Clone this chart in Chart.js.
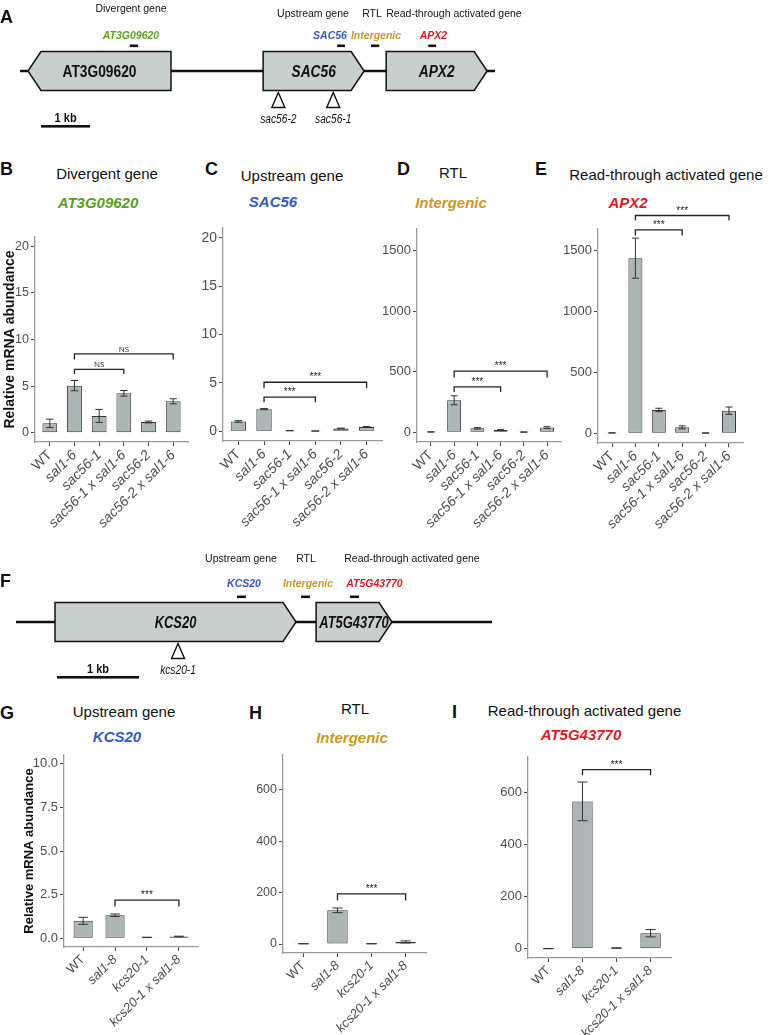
<!DOCTYPE html>
<html>
<head>
<meta charset="utf-8">
<script src="https://cdn.jsdelivr.net/npm/chart.js@4.4.1/dist/chart.umd.min.js"></script>
<style>
  body { margin: 0; background: #fff; }
  #fig { position: relative; width: 774px; height: 1035px; overflow: hidden; font-family: 'Liberation Sans', Arial, sans-serif; }
  #fig canvas { position: absolute; }
  .t { position: absolute; white-space: nowrap; line-height: 1; color: #111; }
</style>
</head>
<body>
<div id="fig"></div>
<script>
// genotypes
const labelsSac = ['WT', 'sal1-6', 'sac56-1', 'sac56-1 x sal1-6', 'sac56-2', 'sac56-2 x sal1-6'];
const labelsKcs = ['WT', 'sal1-8', 'kcs20-1', 'kcs20-1 x sal1-8'];

// relative mRNA abundance (mean, error)
const divergentMean = [1.0, 5.05, 1.8, 4.23, 1.15, 3.37];
const divergentErr  = [0.45, 0.55, 0.7, 0.3, 0.1, 0.27];
const sac56Mean = [1.02, 2.29, 0.07, 0.03, 0.3, 0.45];
const sac56Err  = [0.08, 0.06, 0.02, 0.01, 0.03, 0.04];
const rtlSacMean = [3, 265, 33, 19, 2, 39];
const rtlSacErr  = [1, 37, 6, 5, 1, 8];
const apx2Mean = [3, 1440, 192, 49, 2, 186];
const apx2Err  = [1, 165, 14, 12, 1, 30];
const kcs20Mean = [1.0, 1.32, 0.05, 0.1];
const kcs20Err  = [0.2, 0.07, 0.01, 0.02];
const rtlKcsMean = [1, 131, 1, 8];
const rtlKcsErr  = [0.3, 9, 0.3, 4];
const at5gMean = [1, 565, 3, 60];
const at5gErr  = [0.5, 74, 1, 14];

// significance brackets: [from, to, line value, tick end value, label]
const divergentSig = [[2, 4, 6.8, 6.3, 'NS'], [2, 6, 8.46, 7.85, 'NS']];
const sac56Sig = [[2, 4, 3.54, 2.99, '***'], [2, 6, 5.07, 4.44, '***']];
const rtlSacSig = [[2, 4, 375, 334, '***'], [2, 6, 505, 453, '***']];
const apx2Sig = [[2, 4, 1673, 1626, '***'], [2, 6, 1791, 1750, '***']];
const kcs20Sig = [[2, 4, 2.18, 1.82, '***']];
const rtlKcsSig = [[2, 4, 195, 169, '***']];
const at5gSig = [[2, 4, 687, 665, '***']];

// y tick values
const ticks20 = [0, 5, 10, 15, 20];
const ticks1500 = [0, 500, 1000, 1500];
const ticks10 = [0, 2.5, 5, 7.5, 10];
const ticks600 = [0, 200, 400, 600];

// locus maps (kb)
const locusA = 9.69;
const genesA = ['AT3G09620', 'SAC56', 'APX2'];
const geneStartA = [0.163, 4.96, 7.47];
const geneEndA = [3.08, 7.02, 9.53];
const strandA = [-1, 1, 1];
const probeStartA = [2.24, 6.47, 7.16, 8.33];
const probeEndA = [2.41, 6.63, 7.33, 8.49];
const insertsA = ['sac56-2', 'sac56-1'];
const insertPosA = [5.27, 6.39];
const scaleBarA = [0.43, 1.43];

const locusF = 5.805;
const genesF = ['KCS20', 'AT5G43770'];
const geneStartF = [0.476, 3.66];
const geneEndF = [3.415, 4.585];
const strandF = [1, 1];
const probeStartF = [2.695, 3.476, 4.073];
const probeEndF = [2.805, 3.585, 4.183];
const insertsF = ['kcs20-1'];
const insertPosF = [1.976];
const scaleBarF = [0.5, 1.5];

const FONT = "'Liberation Sans', Arial, sans-serif";
const GREEN = '#5a9e22', BLUE = '#3457c8', GOLD = '#c89a26', RED = '#e5171f';
const fig = document.getElementById('fig');

function txt(s, x, base, size, css) {
  const d = document.createElement('div');
  d.className = 't';
  d.textContent = s;
  d.style.fontSize = size + 'px';
  d.style.left = x + 'px';
  d.style.top = (base - 0.8465 * size) + 'px';
  if (!css || !css.left) d.style.transform = 'translateX(-50%)';
  Object.assign(d.style, css || {});
  if (css && css.left) d.style.left = x + 'px';
  fig.appendChild(d);
}
const gene = c => ({ color: c, fontWeight: 'bold', fontStyle: 'italic' });
const letter = { left: true, fontWeight: 'bold', transform: 'none' };

const errorBars = {
  id: 'errorBars',
  afterDatasetsDraw(chart, args, opts) {
    const { ctx, scales: { x, y } } = chart;
    const half = Math.abs(x.getPixelForValue(1.15) - x.getPixelForValue(1));
    ctx.save();
    ctx.strokeStyle = '#333';
    ctx.lineWidth = 1;
    chart.data.datasets[0].data.forEach((p, i) => {
      const px = x.getPixelForValue(p.x);
      const y1 = y.getPixelForValue(p.y + opts.err[i]);
      const y2 = y.getPixelForValue(p.y - opts.err[i]);
      ctx.beginPath();
      ctx.moveTo(px, y1); ctx.lineTo(px, y2);
      ctx.moveTo(px - half, y1); ctx.lineTo(px + half, y1);
      ctx.moveTo(px - half, y2); ctx.lineTo(px + half, y2);
      ctx.stroke();
    });
    ctx.restore();
  }
};

const sigBars = {
  id: 'sigBars',
  afterDraw(chart, args, opts) {
    const { ctx, scales: { x, y } } = chart;
    ctx.save();
    ctx.strokeStyle = '#222';
    ctx.fillStyle = '#222';
    ctx.lineWidth = 1.3;
    ctx.textAlign = 'center';
    opts.items.forEach(([a, b, yl, yt, lab]) => {
      const xa = x.getPixelForValue(a), xb = x.getPixelForValue(b);
      const pl = y.getPixelForValue(yl), pt = y.getPixelForValue(yt);
      ctx.beginPath();
      ctx.moveTo(xa, pt); ctx.lineTo(xa, pl); ctx.lineTo(xb, pl); ctx.lineTo(xb, pt);
      ctx.stroke();
      ctx.font = lab === 'NS' ? "8px 'Open Sans', sans-serif" : '10px ' + FONT;
      ctx.fillText(lab, (xa + xb) / 2, pl - 2);
    });
    ctx.restore();
  }
};

function barPanel(o) {
  const padL = o.padL || 46, padT = 50, padR = 16, padB = 110;
  const cv = document.createElement('canvas');
  cv.width = o.right - o.left + padL + padR;
  cv.height = o.bottom - o.top + padT + padB;
  cv.style.left = (o.left - padL) + 'px';
  cv.style.top = (o.top - padT) + 'px';
  fig.appendChild(cv);
  const grid = { drawOnChartArea: false, drawTicks: true, tickLength: 4, color: '#444', offset: false };
  const border = { display: true, color: '#9a9a9a', width: 1.3 };
  new Chart(cv, {
    type: 'bar',
    data: {
      datasets: [{
        data: o.mean.map((v, i) => ({ x: i + 1, y: v })),
        backgroundColor: '#adb6b4',
        borderColor: '#333',
        borderWidth: 1,
        borderSkipped: false,
        categoryPercentage: 0.6,
        barPercentage: 1
      }]
    },
    options: {
      responsive: false,
      animation: false,
      events: [],
      devicePixelRatio: 1,
      layout: { padding: { top: padT, right: padR, left: 0, bottom: 0 } },
      plugins: {
        legend: { display: false },
        tooltip: { enabled: false },
        errorBars: { err: o.err },
        sigBars: { items: o.sig }
      },
      scales: {
        x: {
          type: 'linear',
          min: 0.4,
          max: o.labels.length + 0.6,
          offset: false,
          afterBuildTicks: s => { s.ticks = o.labels.map((_, i) => ({ value: i + 1 })); },
          afterFit: s => { s.height = padB; },
          grid, border,
          ticks: {
            autoSkip: false, minRotation: 45, maxRotation: 45, padding: 1, color: '#4d4d4d',
            font: c => ({ family: FONT, size: o.xSize, style: c.index === 0 ? 'normal' : 'italic' }),
            callback: v => o.labels[v - 1]
          }
        },
        y: {
          min: o.yMin,
          max: o.yMax,
          afterBuildTicks: s => { s.ticks = o.yTicks.map(v => ({ value: v })); },
          afterFit: s => { s.width = padL; },
          grid, border,
          title: {
            display: !!o.yTitle, text: o.yTitle, color: '#111',
            font: { family: FONT, size: o.titleSize || 13, weight: 'bold' },
            padding: { top: o.titlePad || 4, bottom: 0 }
          },
          ticks: {
            padding: 2, color: '#4d4d4d',
            font: { family: FONT, size: o.tickSize || 13 },
            callback: v => v.toFixed(o.digits || 0)
          }
        }
      }
    },
    plugins: [errorBars, sigBars]
  });
}

const geneMap = {
  id: 'geneMap',
  afterDraw(chart, args, o) {
    const { ctx } = chart;
    const x = chart.scales.x;
    const mid = o.mid, hh = 19.5, head = 13;
    ctx.save();
    ctx.strokeStyle = '#111';
    ctx.lineWidth = 2.4;
    ctx.beginPath();
    ctx.moveTo(x.getPixelForValue(0), mid);
    ctx.lineTo(x.getPixelForValue(o.length), mid);
    ctx.stroke();
    o.names.forEach((name, i) => {
      const x0 = x.getPixelForValue(o.starts[i]), x1 = x.getPixelForValue(o.ends[i]);
      ctx.beginPath();
      if (o.strand[i] > 0) {
        ctx.moveTo(x0, mid - hh); ctx.lineTo(x1 - head, mid - hh); ctx.lineTo(x1, mid);
        ctx.lineTo(x1 - head, mid + hh); ctx.lineTo(x0, mid + hh);
      } else {
        ctx.moveTo(x1, mid - hh); ctx.lineTo(x0 + head, mid - hh); ctx.lineTo(x0, mid);
        ctx.lineTo(x0 + head, mid + hh); ctx.lineTo(x1, mid + hh);
      }
      ctx.closePath();
      ctx.fillStyle = '#c8cfcd';
      ctx.fill();
      ctx.lineWidth = 1.5;
      ctx.stroke();
      ctx.save();
      ctx.translate((x0 + x1) / 2, mid + 0.36 * o.nameSize);
      ctx.scale(o.nameScale, 1);
      ctx.fillStyle = '#111';
      ctx.textAlign = 'center';
      ctx.font = (o.italic[i] ? 'italic ' : '') + 'bold ' + o.nameSize + 'px ' + FONT;
      ctx.fillText(name, 0, 0);
      ctx.restore();
    });
    ctx.fillStyle = '#111';
    o.probeStarts.forEach((s, i) => {
      const a = x.getPixelForValue(s), b = x.getPixelForValue(o.probeEnds[i]);
      ctx.fillRect(a, mid - hh - 7, b - a, 2.6);
    });
    ctx.lineWidth = 1.4;
    o.inserts.forEach((name, i) => {
      const px = x.getPixelForValue(o.insertPos[i]);
      ctx.beginPath();
      ctx.moveTo(px, mid + hh + 2); ctx.lineTo(px + 6.5, mid + hh + 17); ctx.lineTo(px - 6.5, mid + hh + 17);
      ctx.closePath();
      ctx.fillStyle = '#fff'; ctx.fill(); ctx.stroke();
      ctx.save();
      ctx.translate(px, mid + hh + 32);
      ctx.scale(0.85, 1);
      ctx.fillStyle = '#111';
      ctx.textAlign = 'center';
      ctx.font = 'italic 12px ' + FONT;
      ctx.fillText(name, 0, 0);
      ctx.restore();
    });
    const s0 = x.getPixelForValue(o.bar[0]), s1 = x.getPixelForValue(o.bar[1]);
    ctx.fillStyle = '#111';
    ctx.fillRect(s0, mid + 54, s1 - s0, 2.6);
    ctx.save();
    ctx.translate((s0 + s1) / 2, mid + 50.5);
    ctx.scale(0.85, 1);
    ctx.textAlign = 'center';
    ctx.font = 'bold 13px ' + FONT;
    ctx.fillText('1 kb', 0, 0);
    ctx.restore();
    ctx.restore();
  }
};

function mapPanel(o) {
  const cv = document.createElement('canvas');
  cv.width = 774;
  cv.height = o.height;
  cv.style.left = '0px';
  cv.style.top = o.top + 'px';
  fig.appendChild(cv);
  new Chart(cv, {
    type: 'scatter',
    data: { datasets: [{ data: [] }] },
    options: {
      responsive: false, animation: false, events: [], devicePixelRatio: 1,
      layout: { padding: { left: o.x0, right: 774 - o.x1, top: 0, bottom: 0 } },
      plugins: { legend: { display: false }, tooltip: { enabled: false }, geneMap: o.map },
      scales: {
        x: { type: 'linear', display: false, min: 0, max: o.map.length },
        y: { display: false, min: 0, max: 1 }
      }
    },
    plugins: [geneMap]
  });
}

// ---- A ----
mapPanel({ top: 0, height: 140, x0: 20, x1: 495, map: {
  mid: 71, length: locusA, names: genesA, starts: geneStartA, ends: geneEndA, strand: strandA,
  italic: [false, true, true], nameSize: 16, nameScale: 0.86,
  probeStarts: probeStartA, probeEnds: probeEndA, inserts: insertsA, insertPos: insertPosA, bar: scaleBarA } });
txt('A', 0, 23, 18, letter);
txt('Divergent gene', 131, 12, 10.5);
txt('AT3G09620', 131, 38.5, 10.5, gene(GREEN));
txt('Upstream gene', 313, 16.5, 10.5);
txt('RTL', 372, 16.5, 10.5);
txt('Read-through activated gene', 454, 16.5, 10.5);
txt('SAC56', 330, 39, 10.5, gene(BLUE));
txt('Intergenic', 376, 39, 10.5, gene(GOLD));
txt('APX2', 433.5, 39, 10.5, gene(RED));

// ---- B-E ----
txt('B', 0, 175, 18, letter);
txt('Divergent gene', 107, 179, 15);
txt('AT3G09620', 98, 208, 15, gene(GREEN));
txt('C', 205, 175, 18, letter);
txt('Upstream gene', 292, 181, 15);
txt('SAC56', 273, 207, 15, gene(BLUE));
txt('D', 397, 175, 18, letter);
txt('RTL', 453, 178, 15);
txt('Intergenic', 451, 208, 15, gene(GOLD));
txt('E', 535, 175, 18, letter);
txt('Read-through activated gene', 666, 180, 15);
txt('APX2', 628, 208, 15, gene(RED));

barPanel({ left: 35, top: 237, right: 188, bottom: 442, yMin: -1, yMax: 21, yTicks: ticks20,
  labels: labelsSac, mean: divergentMean, err: divergentErr, sig: divergentSig,
  xSize: 14, tickSize: 12.5,
  padL: 35, yTitle: 'Relative mRNA abundance', titleSize: 14, titlePad: 2 });
barPanel({ left: 223, top: 228, right: 382, bottom: 441, yMin: -1, yMax: 21, yTicks: ticks20,
  labels: labelsSac, mean: sac56Mean, err: sac56Err, sig: sac56Sig, xSize: 14, tickSize: 14 });
barPanel({ left: 417, top: 229, right: 561, bottom: 442, yMin: -80, yMax: 1680, yTicks: ticks1500,
  labels: labelsSac, mean: rtlSacMean, err: rtlSacErr, sig: rtlSacSig, xSize: 14, tickSize: 13 });
barPanel({ left: 598, top: 229, right: 743, bottom: 443, yMin: -80, yMax: 1680, yTicks: ticks1500,
  labels: labelsSac, mean: apx2Mean, err: apx2Err, sig: apx2Sig, xSize: 14, tickSize: 13 });

// ---- F ----
mapPanel({ top: 540, height: 145, x0: 16, x1: 492, map: {
  mid: 82, length: locusF, names: genesF, starts: geneStartF, ends: geneEndF, strand: strandF,
  italic: [true, true], nameSize: 17, nameScale: 0.76,
  probeStarts: probeStartF, probeEnds: probeEndF, inserts: insertsF, insertPos: insertPosF, bar: scaleBarF } });
txt('F', 0, 587, 18, letter);
txt('Upstream gene', 241, 562, 10.5);
txt('RTL', 306, 562, 10.5);
txt('Read-through activated gene', 412, 562, 10.5);
txt('KCS20', 244, 587, 10.5, gene(BLUE));
txt('Intergenic', 308, 587, 10.5, gene(GOLD));
txt('AT5G43770', 374.5, 587, 10.5, gene(RED));

// ---- G-I ----
txt('G', 0, 719, 18, letter);
txt('Upstream gene', 124, 717, 15);
txt('KCS20', 117, 741.5, 15, gene(BLUE));
txt('H', 249, 719, 18, letter);
txt('RTL', 355, 713.5, 15);
txt('Intergenic', 352, 743, 15, gene(GOLD));
txt('I', 452, 718.5, 18, letter);
txt('Read-through activated gene', 584.5, 716, 15);
txt('AT5G43770', 581, 740, 15, gene(RED));

barPanel({ left: 64, top: 755, right: 198, bottom: 947, yMin: -0.5, yMax: 10.5, yTicks: ticks10, digits: 1,
  labels: labelsKcs, mean: kcs20Mean, err: kcs20Err, sig: kcs20Sig, xSize: 13, tickSize: 13,
  padL: 46, yTitle: 'Relative mRNA abundance', titleSize: 13, titlePad: 4 });
barPanel({ left: 283, top: 755, right: 426, bottom: 953, yMin: -35, yMax: 735, yTicks: ticks600,
  labels: labelsKcs, mean: rtlKcsMean, err: rtlKcsErr, sig: rtlKcsSig, xSize: 13, tickSize: 12.5 });
barPanel({ left: 528, top: 757, right: 671, bottom: 958, yMin: -35, yMax: 735, yTicks: ticks600,
  labels: labelsKcs, mean: at5gMean, err: at5gErr, sig: at5gSig, xSize: 13, tickSize: 13 });
</script>
</body>
</html>
